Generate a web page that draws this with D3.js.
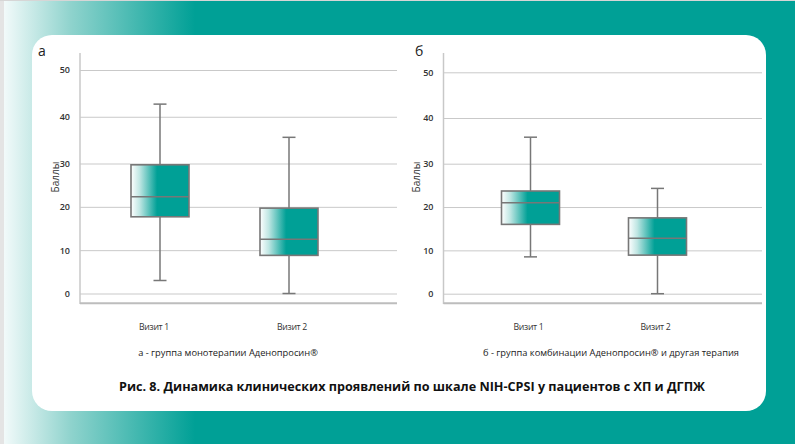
<!DOCTYPE html>
<html><head><meta charset="utf-8">
<script src="https://cdn.jsdelivr.net/npm/d3@7"></script>
<style>html,body{margin:0;padding:0;background:#fff}svg{display:block}</style>
</head><body>
<script>
// ---- data ----
const categories = ["Визит 1", "Визит 2"];
const yTicks = [0, 10, 20, 30, 40, 50];
// panel а: группа монотерапии
const aMin = [3, 0];
const aQ1 = [17.7, 8.8];
const aMedian = [22.3, 12.5];
const aQ3 = [29.7, 19.7];
const aMax = [42.7, 35.6];
// panel б: группа комбинации
const bMin = [8.5, 0];
const bQ1 = [16.0, 8.9];
const bMedian = [21.0, 12.8];
const bQ3 = [23.7, 17.5];
const bMax = [35.8, 24.3];

const panelLetters = ["а", "б"];
const captions = ["а - группа монотерапии Аденопросин®", "б - группа комбинации Аденопросин® и другая терапия"];
const yLabel = "Баллы";
const title = "Рис. 8. Динамика клинических проявлений по шкале NIH-CPSI у пациентов с ХП и ДГПЖ";

const W = 795, H = 444, TEAL = "#00a096";
const svg = d3.select("body").append("svg").attr("width", W).attr("height", H);
const defs = svg.append("defs");

const bg = defs.append("linearGradient").attr("id", "bgGrad")
  .attr("gradientUnits", "userSpaceOnUse").attr("x1", 4).attr("x2", 195).attr("y1", 0).attr("y2", 0);
bg.append("stop").attr("offset", 0).attr("stop-color", "#f2fafa");
bg.append("stop").attr("offset", 0.35).attr("stop-color", "#8fd3cd");
bg.append("stop").attr("offset", 1).attr("stop-color", TEAL);

const bx = defs.append("linearGradient").attr("id", "boxGrad")
  .attr("x1", 0).attr("x2", 1).attr("y1", 0).attr("y2", 0);
bx.append("stop").attr("offset", 0).attr("stop-color", "#ffffff");
bx.append("stop").attr("offset", 0.15).attr("stop-color", "#bfe6e3");
bx.append("stop").attr("offset", 0.45).attr("stop-color", TEAL);
bx.append("stop").attr("offset", 1).attr("stop-color", TEAL);

svg.append("rect").attr("width", W).attr("height", H).attr("fill", "url(#bgGrad)");
svg.append("rect").attr("width", 4).attr("height", H).attr("fill", "#e4e4e4");
svg.append("rect").attr("width", W).attr("height", 1).attr("fill", "#d6d6d6");

// card
svg.append("rect").attr("x", 32).attr("y", 35).attr("width", 734).attr("height", 376)
  .attr("rx", 20).attr("fill", "#ffffff");

const panels = [
  { letter: panelLetters[0], caption: captions[0], min: aMin, q1: aQ1, med: aMedian, q3: aQ3, max: aMax,
    axisX: 80, right: 397, yRange: [293.5, 163.5, 70], xRange: [160, 289], letterX: 38, ylX: 55, capX: 228, labelOff: [-6, 3] },
  { letter: panelLetters[1], caption: captions[1], min: bMin, q1: bQ1, med: bMedian, q3: bQ3, max: bMax,
    axisX: 443.5, right: 762, yRange: [293.7, 163.7, 72.3], xRange: [530.5, 657.5], letterX: 415, ylX: 416, capX: 611, labelOff: [-2, -2] }
];

const boxW = 58, capW = 13, stroke = "#777777";

panels.forEach(p => {
  const g = svg.append("g");
  const y = d3.scaleLinear().domain([0, 30, 50]).range(p.yRange);
  const x = d3.scalePoint().domain(categories).range(p.xRange);

  // gridlines + tick labels
  const ax = g.append("g").attr("transform", `translate(${p.axisX},0)`)
    .call(d3.axisLeft(y).tickValues(yTicks).tickSize(-(p.right - p.axisX)).tickPadding(10).tickFormat(d3.format("d")));
  ax.select(".domain").remove();
  ax.selectAll(".tick line").attr("stroke", "#c9c9c9").attr("stroke-width", 1);
  ax.selectAll(".tick text").attr("font-family", "'Open Sans', sans-serif").attr("font-weight", 600)
    .attr("font-size", 9).attr("fill", "#333");

  // axis lines
  g.append("line").attr("x1", p.axisX).attr("x2", p.axisX).attr("y1", 53).attr("y2", 304)
    .attr("stroke", "#c8c8c8").attr("stroke-width", 1.5);
  g.append("line").attr("x1", p.axisX).attr("x2", p.right).attr("y1", 303.3).attr("y2", 303.3)
    .attr("stroke", "#bdbdbd").attr("stroke-width", 2);

  // panel letter
  g.append("text").attr("x", p.letterX).attr("y", 56).text(p.letter)
    .attr("font-family", "'Open Sans', sans-serif").attr("font-size", 14).attr("fill", "#222");

  // y label
  g.append("text").attr("transform", `translate(${p.ylX},177) rotate(-90)`).attr("text-anchor", "middle")
    .attr("dy", "0.35em").text(yLabel)
    .attr("font-family", "'Open Sans', sans-serif").attr("font-size", 10).attr("fill", "#333");

  // boxes
  categories.forEach((c, i) => {
    const cx = x(c);
    g.append("line").attr("x1", cx).attr("x2", cx).attr("y1", y(p.max[i])).attr("y2", y(p.q3[i]))
      .attr("stroke", stroke).attr("stroke-width", 1.5);
    g.append("line").attr("x1", cx).attr("x2", cx).attr("y1", y(p.q1[i])).attr("y2", y(p.min[i]))
      .attr("stroke", stroke).attr("stroke-width", 1.5);
    [p.max[i], p.min[i]].forEach(v => {
      g.append("line").attr("x1", cx - capW / 2).attr("x2", cx + capW / 2).attr("y1", y(v)).attr("y2", y(v))
        .attr("stroke", stroke).attr("stroke-width", 1.5);
    });
    g.append("rect").attr("x", cx - boxW / 2).attr("width", boxW)
      .attr("y", y(p.q3[i])).attr("height", y(p.q1[i]) - y(p.q3[i]))
      .attr("fill", "url(#boxGrad)").attr("stroke", stroke).attr("stroke-width", 1.6);
    g.append("line").attr("x1", cx - boxW / 2).attr("x2", cx + boxW / 2)
      .attr("y1", y(p.med[i])).attr("y2", y(p.med[i])).attr("stroke", stroke).attr("stroke-width", 1.5);

    g.append("text").attr("x", cx + p.labelOff[i]).attr("y", 327).attr("dy", "0.35em")
      .attr("text-anchor", "middle").text(c)
      .attr("font-family", "'Open Sans', sans-serif").attr("font-size", 8.7).attr("fill", "#333")
      .attr("letter-spacing", -0.3);
  });

  g.append("text").attr("x", p.capX).attr("y", 353).attr("dy", "0.35em").attr("text-anchor", "middle")
    .text(p.caption).attr("font-family", "'Open Sans', sans-serif").attr("font-size", 9.3).attr("fill", "#222");
});

svg.append("text").attr("x", 412).attr("y", 386).attr("dy", "0.35em").attr("text-anchor", "middle")
  .text(title).attr("font-family", "'Open Sans', sans-serif").attr("font-weight", 700)
  .attr("font-size", 13).attr("fill", "#111")
  .attr("textLength", 586).attr("lengthAdjust", "spacingAndGlyphs");
</script>
</body></html>
